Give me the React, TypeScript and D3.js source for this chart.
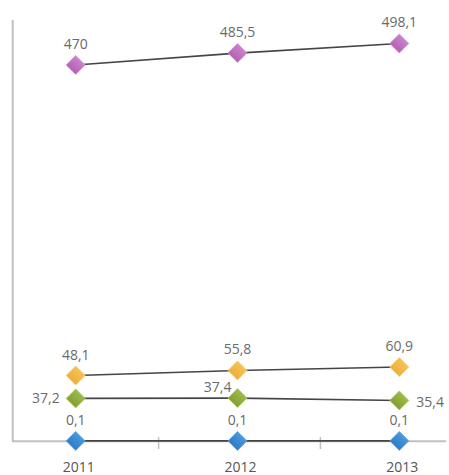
import React from "react";
import * as d3 from "d3";

// ---- data ----
const years = ["2011", "2012", "2013"];
const purpleValues = [470, 485.5, 498.1];
const orangeValues = [48.1, 55.8, 60.9];
const greenValues = [37.2, 37.4, 35.4];
const blueValues = [0.1, 0.1, 0.1];
const purpleLabels = ["470", "485,5", "498,1"];
const orangeLabels = ["48,1", "55,8", "60,9"];
const greenLabels = ["37,2", "37,4", "35,4"];
const blueLabels = ["0,1", "0,1", "0,1"];

type Placement = "top" | "left" | "right" | "topLeft";

const seriesList = [
  { id: "blue", values: blueValues, labels: blueLabels, c0: "#1f6fc0", c1: "#5aa6e6", place: ["top", "top", "top"] as Placement[] },
  { id: "green", values: greenValues, labels: greenLabels, c0: "#739326", c1: "#acc957", place: ["left", "topLeft", "right"] as Placement[] },
  { id: "orange", values: orangeValues, labels: orangeLabels, c0: "#e9a52c", c1: "#f9cb68", place: ["top", "top", "top"] as Placement[] },
  { id: "purple", values: purpleValues, labels: purpleLabels, c0: "#a950a9", c1: "#d593d5", place: ["top", "top", "top"] as Placement[] },
];

const W = 449;
const H = 475;

export default function App() {
  const x = d3.scalePoint<string>().domain(years).range([75.7, 399.3]);
  // broken (piecewise) value axis as in the original chart
  const y = d3
    .scaleLinear()
    .domain([0, 37.3, 48.1, 61, 470, 500])
    .range([441, 398.3, 375.5, 367, 65, 42]);

  const line = d3
    .line<number>()
    .x((_, i) => x(years[i]) as number)
    .y((d) => y(d));

  const tickXs = years.slice(0, -1).map((yr, i) => ((x(yr) as number) + (x(years[i + 1]) as number)) / 2);
  const r = 9.5;
  const textColor = "#6a6a6a";
  const font = "'Open Sans', 'DejaVu Sans', sans-serif";

  const labelProps = (p: Placement, cx: number, cy: number) => {
    switch (p) {
      case "top":
        return { x: cx, y: cy - 16, textAnchor: "middle" as const };
      case "left":
        return { x: cx - 16, y: cy + 5, textAnchor: "end" as const };
      case "right":
        return { x: cx + 17, y: cy + 7, textAnchor: "start" as const };
      case "topLeft":
        return { x: cx - 6, y: cy - 6, textAnchor: "end" as const };
    }
  };

  return (
    <svg
      width={W}
      height={H}
      style={{ position: "absolute", left: 0, top: 0, background: "#fff" }}
      fontFamily={font}
    >
      <defs>
        {seriesList.map((s) => (
          <linearGradient key={s.id} id={`g-${s.id}`} x1="0" y1="1" x2="1" y2="0">
            <stop offset="0%" stopColor={s.c0} />
            <stop offset="100%" stopColor={s.c1} />
          </linearGradient>
        ))}
      </defs>

      {/* axes */}
      <line x1={12.7} x2={12.7} y1={20} y2={441.5} stroke="#c0c0c0" strokeWidth={2} />
      <line x1={12} x2={446} y1={441.3} y2={441.3} stroke="#c0c0c0" strokeWidth={2} />
      {tickXs.map((tx, i) => (
        <line key={i} x1={tx + 2} x2={tx + 2} y1={437} y2={449} stroke="#c0c0c0" strokeWidth={1.5} />
      ))}
      {years.map((yr) => (
        <text
          key={yr}
          x={(x(yr) as number) + 3}
          y={471.5}
          textAnchor="middle"
          fontSize={14}
          fill="#555"
        >
          {yr}
        </text>
      ))}

      {/* lines */}
      {seriesList.map((s) => (
        <path key={`l-${s.id}`} d={line(s.values) || ""} fill="none" stroke="#454545" strokeWidth={1.6} />
      ))}

      {/* markers + labels */}
      {seriesList.map((s) =>
        s.values.map((v, i) => {
          const cx = x(years[i]) as number;
          const cy = y(v);
          const lp = labelProps(s.place[i], cx, cy);
          return (
            <g key={`${s.id}-${i}`}>
              <path
                d={`M${cx},${cy - r}L${cx + r},${cy}L${cx},${cy + r}L${cx - r},${cy}Z`}
                fill={`url(#g-${s.id})`}
                stroke={s.c1}
                strokeWidth={0.8}
              />
              <text x={lp.x} y={lp.y} textAnchor={lp.textAnchor} fontSize={14} fill={textColor}>
                {s.labels[i]}
              </text>
            </g>
          );
        })
      )}
    </svg>
  );
}
